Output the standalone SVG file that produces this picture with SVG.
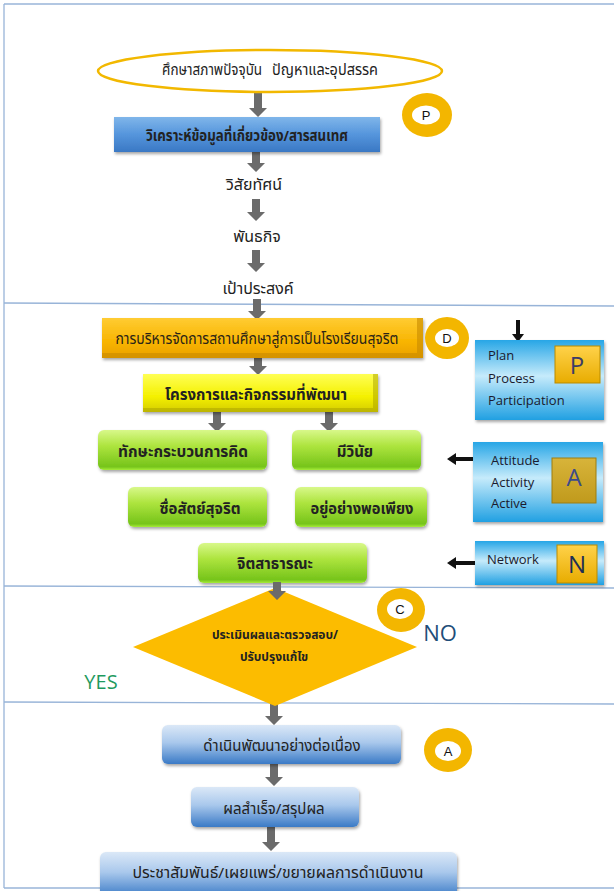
<svg xmlns="http://www.w3.org/2000/svg" width="614" height="891" viewBox="0 0 614 891">
<defs>
<linearGradient id="gBlue1" x1="0" y1="0" x2="0" y2="1">
<stop offset="0" stop-color="#80b6ea"/><stop offset="0.5" stop-color="#5595dc"/><stop offset="1" stop-color="#3a78c4"/>
</linearGradient>
<linearGradient id="gBlue2" x1="0" y1="0" x2="0" y2="1">
<stop offset="0" stop-color="#dbe8f7"/><stop offset="0.45" stop-color="#a9c8ec"/><stop offset="1" stop-color="#3a7ac6"/>
</linearGradient>
<linearGradient id="gOrange" x1="0" y1="0" x2="0" y2="1">
<stop offset="0" stop-color="#ffcc33"/><stop offset="0.6" stop-color="#f8b400"/><stop offset="1" stop-color="#e9a000"/>
</linearGradient>
<linearGradient id="gYellow" x1="0" y1="0" x2="0" y2="1">
<stop offset="0" stop-color="#ffff55"/><stop offset="0.6" stop-color="#f4f000"/><stop offset="1" stop-color="#d4cc00"/>
</linearGradient>
<linearGradient id="gGreen" x1="0" y1="0" x2="0" y2="1">
<stop offset="0" stop-color="#d8f88a"/><stop offset="0.4" stop-color="#ade43e"/><stop offset="0.92" stop-color="#76c41a"/><stop offset="1" stop-color="#a6ec3a"/>
</linearGradient>
<linearGradient id="gCyan" x1="0" y1="0" x2="0" y2="1">
<stop offset="0" stop-color="#27a6e6"/><stop offset="0.45" stop-color="#c6ebfb"/><stop offset="1" stop-color="#20a0e2"/>
</linearGradient>
<linearGradient id="gGold" x1="0" y1="0" x2="0" y2="1">
<stop offset="0" stop-color="#ffd24a"/><stop offset="1" stop-color="#e8ac00"/>
</linearGradient>
<linearGradient id="gOlive" x1="0" y1="0" x2="0" y2="1">
<stop offset="0" stop-color="#d8b43a"/><stop offset="1" stop-color="#c09a1c"/>
</linearGradient>
<filter id="sh" x="-10%" y="-10%" width="120%" height="140%">
<feDropShadow dx="1" dy="2" stdDeviation="1.5" flood-color="#000" flood-opacity="0.35"/>
</filter>
</defs>
<style>
.th{font-family:"Noto Sans Thai","Leelawadee UI",Tahoma,"Noto Sans",sans-serif;fill:#222;text-anchor:middle}
.ths{font-family:"Noto Sans Thai","Leelawadee UI",Tahoma,"Noto Sans",sans-serif;fill:#222;text-anchor:start}
.b{font-weight:bold}
.en{font-family:"Open Sans","Liberation Sans",sans-serif;fill:#1a1a2e}
.arr{fill:#6b6b6b}
.blk{fill:#111}
.ring{fill:#f3b600}
.hole{fill:#fff}
.let{font-family:"Liberation Sans",Arial,sans-serif;font-size:13px;fill:#111;text-anchor:middle}
.frame{stroke:#98b4d8;stroke-width:1.3;fill:none}
.big{font-family:"Open Sans","Liberation Sans",sans-serif;text-anchor:middle}
</style>
<rect width="614" height="891" fill="#fff"/>
<g id="frame">
<line class="frame" x1="4" y1="4" x2="614" y2="4"/>
<line class="frame" x1="4" y1="4" x2="4" y2="888"/>
<line class="frame" x1="4" y1="888" x2="614" y2="888"/>
<line class="frame" x1="4" y1="303" x2="614" y2="306"/>
<line class="frame" x1="4" y1="586" x2="614" y2="588"/>
<line class="frame" x1="4" y1="702" x2="614" y2="704"/>
</g>
<g id="connectors">
<path class="arr" d="M254 93H262V108H267L258 117L249 108H254Z"/>
<path class="arr" d="M252 150H260V163H265L256 172L247 163H252Z"/>
<path class="arr" d="M252 199H260V212H265L256 221L247 212H252Z"/>
<path class="arr" d="M252 250H260V263H265L256 272L247 263H252Z"/>
<path class="arr" d="M253 299H261V311H266L257 320L248 311H253Z"/>
<path class="arr" d="M254 357H262V366H267L258 375L249 366H254Z"/>
<path class="arr" d="M213 412H221V423H226L217 432L208 423H213Z"/>
<path class="arr" d="M325 412H333V423H338L329 432L320 423H325Z"/>
<path class="arr" d="M270 702H278V716H283L274 725L265 716H270Z"/>
<path class="arr" d="M270 764H278V777H283L274 786L265 777H270Z"/>
<path class="arr" d="M267 827H275V842H280L271 851L262 842H267Z"/>
<path class="blk" d="M516 320H520V334H524L518 342L512 334H516Z"/>
<path class="blk" d="M475 457V461H456V465L447 459L456 453V457Z"/>
<path class="blk" d="M475 561V565H456V569L447 563L456 557V561Z"/>
</g>
<g id="n-survey">
<ellipse cx="270" cy="71" rx="172" ry="21" fill="#fff" stroke="#f2b800" stroke-width="2.5"/>
<text class="ths" x="162" y="75" font-size="15" textLength="100" lengthAdjust="spacingAndGlyphs">ศึกษาสภาพปัจจุบัน</text>
<text class="ths" x="272" y="75" font-size="15" textLength="106" lengthAdjust="spacingAndGlyphs">ปัญหาและอุปสรรค</text>
</g>
<g id="n-analyze">
<rect x="114" y="117" width="266" height="35" fill="url(#gBlue1)" filter="url(#sh)"/>
<text class="th b" x="247" y="141" font-size="15" textLength="202" lengthAdjust="spacingAndGlyphs">วิเคราะห์ข้อมูลที่เกี่ยวข้อง/สารสนเทศ</text>
</g>
<g id="n-vision"><text class="th" x="254" y="190" font-size="16">วิสัยทัศน์</text></g>
<g id="n-mission"><text class="th" x="257" y="242" font-size="16">พันธกิจ</text></g>
<g id="n-goal"><text class="th" x="258" y="294" font-size="16">เป้าประสงค์</text></g>
<g id="c-P">
<ellipse class="ring" cx="427" cy="115" rx="25" ry="22"/>
<ellipse class="hole" cx="426" cy="115" rx="14" ry="9.5"/>
<text class="let" x="426" y="120">P</text>
</g>
<g id="n-manage">
<rect x="102" y="318" width="321" height="40" fill="url(#gOrange)" filter="url(#sh)"/>
<path d="M417 318H423V358H102V353H417Z" fill="#c88a00" opacity="0.6"/>
<text class="th" x="257" y="344" font-size="15" textLength="283" lengthAdjust="spacingAndGlyphs" style="fill:#2a2418">การบริหารจัดการสถานศึกษาสู่การเป็นโรงเรียนสุจริต</text>
</g>
<g id="c-D">
<ellipse class="ring" cx="447" cy="338" rx="22" ry="21"/>
<ellipse class="hole" cx="447" cy="338" rx="12" ry="9"/>
<text class="let" x="447" y="343">D</text>
</g>
<g id="n-project">
<rect x="143" y="374" width="235" height="38" fill="url(#gYellow)" filter="url(#sh)"/>
<path d="M373 374H378V412H143V408H373Z" fill="#a8a000" opacity="0.5"/>
<text class="th b" x="256" y="400" font-size="16" textLength="182" lengthAdjust="spacingAndGlyphs">โครงการและกิจกรรมที่พัฒนา</text>
</g>
<g id="n-think">
<rect x="98" y="430" width="169" height="40" rx="6" fill="url(#gGreen)" filter="url(#sh)"/>
<text class="th b" x="183" y="457" font-size="15" textLength="130" lengthAdjust="spacingAndGlyphs">ทักษะกระบวนการคิด</text>
</g>
<g id="n-discipline">
<rect x="292" y="430" width="129" height="40" rx="6" fill="url(#gGreen)" filter="url(#sh)"/>
<text class="th b" x="355" y="457" font-size="15">มีวินัย</text>
</g>
<g id="n-honest">
<rect x="128" y="487" width="139" height="40" rx="6" fill="url(#gGreen)" filter="url(#sh)"/>
<text class="th b" x="200" y="514" font-size="15">ซื่อสัตย์สุจริต</text>
</g>
<g id="n-sufficient">
<rect x="295" y="487" width="132" height="40" rx="6" fill="url(#gGreen)" filter="url(#sh)"/>
<text class="th b" x="362" y="514" font-size="15" textLength="103" lengthAdjust="spacingAndGlyphs">อยู่อย่างพอเพียง</text>
</g>
<g id="n-public">
<rect x="198" y="543" width="169" height="40" rx="6" fill="url(#gGreen)" filter="url(#sh)"/>
<text class="th b" x="275" y="569" font-size="15">จิตสาธารณะ</text>
</g>
<g id="n-plan">
<rect x="475" y="340" width="129" height="80" fill="url(#gCyan)" filter="url(#sh)"/>
<text class="en" x="488" y="360" font-size="13">Plan</text>
<text class="en" x="488" y="383" font-size="13">Process</text>
<text class="en" x="488" y="405" font-size="13">Participation</text>
<rect x="555" y="346" width="45" height="37" fill="url(#gGold)" stroke="#b88a00" stroke-width="1"/>
<text class="big" x="577" y="374" font-size="24" fill="#3c3c66">P</text>
</g>
<g id="n-attitude">
<rect x="473" y="442" width="130" height="80" fill="url(#gCyan)" filter="url(#sh)"/>
<text class="en" x="491" y="465" font-size="13">Attitude</text>
<text class="en" x="491" y="487" font-size="13">Activity</text>
<text class="en" x="491" y="508" font-size="13">Active</text>
<rect x="552" y="458" width="44" height="45" fill="url(#gOlive)" stroke="#9c7c10" stroke-width="1"/>
<text class="big" x="574" y="486" font-size="24" fill="#3c4a8a">A</text>
</g>
<g id="n-network">
<rect x="475" y="541" width="129" height="44" fill="url(#gCyan)" filter="url(#sh)"/>
<text class="en" x="487" y="564" font-size="13">Network</text>
<rect x="557" y="545" width="40" height="38" fill="url(#gGold)" stroke="#b88a00" stroke-width="1"/>
<text class="big" x="577" y="573" font-size="24" fill="#1f2f55">N</text>
</g>
<g id="n-evaluate">
<path d="M275 588L417 647L275 706L133 647Z" fill="#fcbc00"/>
<path class="arr" d="M273 582H281V591H286L277 600L268 591H273Z"/>
<text class="th b" x="275" y="639" font-size="12">ประเมินผลและตรวจสอบ/</text>
<text class="th b" x="274" y="661" font-size="12">ปรับปรุงแก้ไข</text>
</g>
<g id="c-C">
<ellipse class="ring" cx="401" cy="610" rx="24" ry="22"/>
<ellipse class="hole" cx="400" cy="609" rx="13" ry="10"/>
<text class="let" x="400" y="614">C</text>
</g>
<text class="big" x="440" y="641" font-size="22" fill="#1f4e79">NO</text>
<text class="big" x="101" y="689" font-size="20" fill="#1e9a5e">YES</text>
<g id="n-continue">
<rect x="162" y="725" width="239" height="39" rx="6" fill="url(#gBlue2)" filter="url(#sh)"/>
<text class="th" x="282" y="751" font-size="15">ดำเนินพัฒนาอย่างต่อเนื่อง</text>
</g>
<g id="c-A">
<ellipse class="ring" cx="448" cy="750" rx="24" ry="22"/>
<ellipse class="hole" cx="448" cy="751" rx="13" ry="10"/>
<text class="let" x="448" y="756">A</text>
</g>
<g id="n-result">
<rect x="191" y="787" width="168" height="40" rx="6" fill="url(#gBlue2)" filter="url(#sh)"/>
<text class="th" x="274" y="814" font-size="15">ผลสำเร็จ/สรุปผล</text>
</g>
<g id="n-publicize">
<rect x="100" y="852" width="357" height="45" rx="6" fill="url(#gBlue2)" filter="url(#sh)"/>
<text class="th" x="278" y="878" font-size="15" textLength="291" lengthAdjust="spacingAndGlyphs">ประชาสัมพันธ์/เผยแพร่/ขยายผลการดำเนินงาน</text>
</g>
</svg>
